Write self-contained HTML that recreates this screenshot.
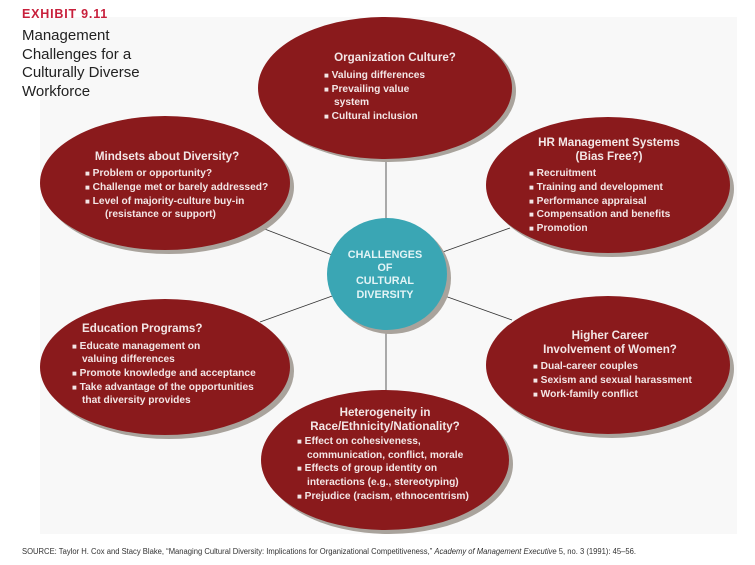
<!DOCTYPE html>
<html><head><meta charset="utf-8"><style>
html,body{margin:0;padding:0;background:#fff;}
svg{display:block;}
.t{font-family:"Liberation Sans",Arial,sans-serif;font-weight:bold;fill:#f3e6e6;}
.h{font-size:11.6px;}
.b{font-size:10.2px;}
.q{font-size:8px;}
.c{font-family:"Liberation Sans",Arial,sans-serif;font-weight:bold;font-size:10.8px;fill:#e3f4f6;}
</style></head><body>
<svg width="755" height="565" viewBox="0 0 755 565" xmlns="http://www.w3.org/2000/svg">
<rect x="40" y="17" width="697" height="517" fill="#f8f8f8"/>
<g stroke="#333" stroke-width="0.8">
<line x1="386" y1="150" x2="386" y2="400"/>
<line x1="262" y1="228" x2="340" y2="258"/>
<line x1="260" y1="322" x2="335" y2="295"/>
<line x1="510" y1="228" x2="440" y2="253"/>
<line x1="512" y1="320" x2="442" y2="295"/>
</g>
<g fill="#a9a39c">
<ellipse cx="389" cy="91" rx="127" ry="71"/>
<ellipse cx="612" cy="189" rx="122" ry="68"/>
<ellipse cx="169" cy="187" rx="125" ry="67"/>
<ellipse cx="169" cy="371" rx="125" ry="68"/>
<ellipse cx="612" cy="369" rx="122" ry="69"/>
<ellipse cx="389" cy="464" rx="124" ry="70"/>
<ellipse cx="391" cy="278" rx="60" ry="56"/>
</g>
<g fill="#8a1a1c">
<ellipse cx="385" cy="88" rx="127" ry="71"/>
<ellipse cx="608" cy="185" rx="122" ry="68"/>
<ellipse cx="165" cy="183" rx="125" ry="67"/>
<ellipse cx="165" cy="367" rx="125" ry="68"/>
<ellipse cx="608" cy="365" rx="122" ry="69"/>
<ellipse cx="385" cy="460" rx="124" ry="70"/>
</g>
<ellipse cx="387" cy="274" rx="60" ry="56" fill="#3aa6b4"/>
<text x="22" y="18" font-family="Liberation Sans,Arial,sans-serif" font-weight="bold" font-size="12.5" fill="#c8203c" letter-spacing="0.8">EXHIBIT 9.11</text>
<g font-family="Liberation Sans,Arial,sans-serif" font-size="15" fill="#222">
<text x="22" y="40">Management</text>
<text x="22" y="59">Challenges for a</text>
<text x="22" y="77">Culturally Diverse</text>
<text x="22" y="96">Workforce</text>
</g>
<g class="t">
<text class="h" x="395" y="61" text-anchor="middle">Organization Culture?</text>
<g class="b">
<text x="324" y="78"><tspan class="q">■</tspan> Valuing differences</text>
<text x="324" y="92"><tspan class="q">■</tspan> Prevailing value</text>
<text x="334" y="105">system</text>
<text x="324" y="119"><tspan class="q">■</tspan> Cultural inclusion</text>
</g>
<text class="h" x="609" y="146" text-anchor="middle">HR Management Systems</text>
<text class="h" x="609" y="160" text-anchor="middle">(Bias Free?)</text>
<g class="b">
<text x="529" y="176"><tspan class="q">■</tspan> Recruitment</text>
<text x="529" y="190"><tspan class="q">■</tspan> Training and development</text>
<text x="529" y="204"><tspan class="q">■</tspan> Performance appraisal</text>
<text x="529" y="217"><tspan class="q">■</tspan> Compensation and benefits</text>
<text x="529" y="231"><tspan class="q">■</tspan> Promotion</text>
</g>
<text class="h" x="167" y="160" text-anchor="middle">Mindsets about Diversity?</text>
<g class="b">
<text x="85" y="176"><tspan class="q">■</tspan> Problem or opportunity?</text>
<text x="85" y="190"><tspan class="q">■</tspan> Challenge met or barely addressed?</text>
<text x="85" y="204"><tspan class="q">■</tspan> Level of majority-culture buy-in</text>
<text x="105" y="217">(resistance or support)</text>
</g>
<text class="h" x="82" y="332">Education Programs?</text>
<g class="b">
<text x="72" y="349"><tspan class="q">■</tspan> Educate management on</text>
<text x="82" y="362">valuing differences</text>
<text x="72" y="376"><tspan class="q">■</tspan> Promote knowledge and acceptance</text>
<text x="72" y="390"><tspan class="q">■</tspan> Take advantage of the opportunities</text>
<text x="82" y="403">that diversity provides</text>
</g>
<text class="h" x="610" y="339" text-anchor="middle">Higher Career</text>
<text class="h" x="610" y="353" text-anchor="middle">Involvement of Women?</text>
<g class="b">
<text x="533" y="369"><tspan class="q">■</tspan> Dual-career couples</text>
<text x="533" y="383"><tspan class="q">■</tspan> Sexism and sexual harassment</text>
<text x="533" y="397"><tspan class="q">■</tspan> Work-family conflict</text>
</g>
<text class="h" x="385" y="416" text-anchor="middle">Heterogeneity in</text>
<text class="h" x="385" y="430" text-anchor="middle">Race/Ethnicity/Nationality?</text>
<g class="b">
<text x="297" y="444"><tspan class="q">■</tspan> Effect on cohesiveness,</text>
<text x="307" y="458">communication, conflict, morale</text>
<text x="297" y="471"><tspan class="q">■</tspan> Effects of group identity on</text>
<text x="307" y="485">interactions (e.g., stereotyping)</text>
<text x="297" y="499"><tspan class="q">■</tspan> Prejudice (racism, ethnocentrism)</text>
</g>
</g>
<g class="c" text-anchor="middle">
<text x="385" y="258">CHALLENGES</text>
<text x="385" y="271">OF</text>
<text x="385" y="284">CULTURAL</text>
<text x="385" y="298">DIVERSITY</text>
</g>
<text x="22" y="554" font-family="Liberation Sans,Arial,sans-serif" font-size="8" fill="#333" textLength="614" lengthAdjust="spacingAndGlyphs">SOURCE: Taylor H. Cox and Stacy Blake, “Managing Cultural Diversity: Implications for Organizational Competitiveness,” <tspan font-style="italic">Academy of Management Executive</tspan> 5, no. 3 (1991): 45–56.</text>
</svg>
</body></html>
